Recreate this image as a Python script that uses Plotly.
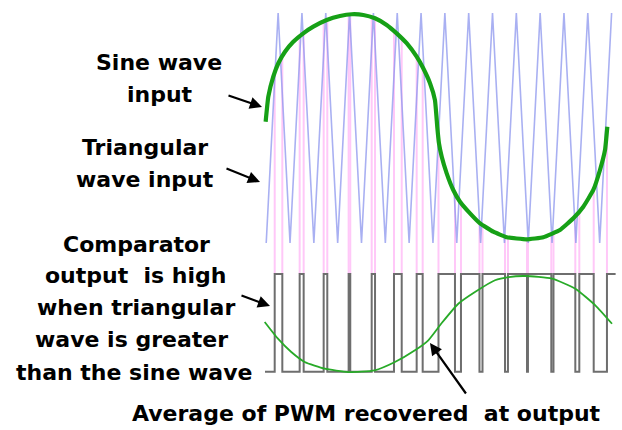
import numpy as np
import plotly.graph_objects as go

# ---- data (x in degrees of the sine period, y in volts; triangle peaks = ±1) ----
tri_t = [1.3, 13.8, 26.3, 38.8, 51.3, 63.8, 76.3, 88.8, 101.3, 113.8, 126.3, 138.8,
         151.3, 163.8, 176.3, 188.8, 201.3, 213.8, 226.3, 238.8, 251.3, 263.8, 276.3,
         288.8, 301.3, 313.8, 326.3, 338.8, 351.3, 363.8]
tri_v = [-1, 1, -1, 1, -1, 1, -1, 1, -1, 1, -1, 1, -1, 1, -1, 1, -1, 1, -1, 1,
         -1, 1, -1, 1, -1, 1, -1, 1, -1, 1]

sine_t = [0.7, 3.5, 8.7, 14.0, 21.0, 29.7, 40.2, 50.7, 64.8, 78.7, 91.0, 103.2, 115.5,
          127.7, 138.2, 148.7, 159.2, 166.1, 173.2, 178.4, 180.8, 182.6, 185.5, 190.7,
          197.6, 204.7, 215.2, 225.7, 239.6, 253.7, 274.7, 292.1, 309.6, 323.6, 334.1,
          344.6, 351.6, 356.9, 359.3]
sine_v = [0.055, 0.272, 0.446, 0.563, 0.663, 0.750, 0.823, 0.881, 0.939, 0.974, 0.989,
          0.983, 0.954, 0.896, 0.823, 0.737, 0.620, 0.519, 0.389, 0.243, 0.011, -0.133,
          -0.250, -0.394, -0.539, -0.641, -0.742, -0.829, -0.902, -0.950, -0.968, -0.950,
          -0.887, -0.785, -0.684, -0.539, -0.365, -0.191, 0.011]

pwm_edges = [0.0, 10.2, 18.2, 36.4, 40.6, 61.6, 65.4, 87.8, 89.5, 112.0, 115.5, 135.4,
             143.5, 159.2, 165.5, 182.1, 199.4, 205.7, 225.1, 228.3, 251.9, 255.0, 275.0,
             276.0, 300.5, 302.8, 325.7, 329.9, 345.0, 358.9, 368.0]
pwm_high = -1.27
pwm_low = -2.12

avg_t = [-0.3, 13.6, 27.6, 41.7, 62.7, 87.1, 115.1, 136.4, 157.4, 171.4, 185.5, 202.9,
         220.4, 241.4, 255.8, 273.2, 301.2, 325.7, 346.7, 364.2]
avg_v = [-1.687, -1.832, -1.948, -2.035, -2.093, -2.122, -2.107, -2.035, -1.933, -1.846,
         -1.696, -1.528, -1.426, -1.324, -1.296, -1.287, -1.310, -1.397, -1.542, -1.702]

# ---- derived traces ----
pwm_levels = [pwm_low if i % 2 == 0 else pwm_high for i in range(len(pwm_edges))]
pwm_levels[-1] = pwm_levels[-2]

pink_x, pink_y = [], []
for e in pwm_edges[1:-1]:
    top = float(np.interp(e, sine_t, sine_v))
    pink_x += [e, e, None]
    pink_y += [top, pwm_high, None]

fig = go.Figure()
fig.add_trace(go.Scatter(x=pink_x, y=pink_y, mode="lines",
                         line=dict(color="rgb(255,200,248)", width=2), hoverinfo="skip"))
fig.add_trace(go.Scatter(x=tri_t, y=tri_v, mode="lines",
                         line=dict(color="rgba(140,150,238,0.75)", width=1.6), hoverinfo="skip"))
fig.add_trace(go.Scatter(x=sine_t, y=sine_v, mode="lines",
                         line=dict(color="rgb(22,160,22)", width=4.2, shape="spline", smoothing=0.35),
                         hoverinfo="skip"))
fig.add_trace(go.Scatter(x=pwm_edges, y=pwm_levels, mode="lines",
                         line=dict(color="rgb(110,110,110)", width=2, shape="hv"), hoverinfo="skip"))
fig.add_trace(go.Scatter(x=avg_t, y=avg_v, mode="lines",
                         line=dict(color="rgb(40,170,40)", width=1.8, shape="spline", smoothing=0.5),
                         hoverinfo="skip"))

W, H = 622, 430
FONT = dict(family="DejaVu Sans", size=22, color="black")

def px(x):
    return x / W

def py(y):
    return 1 - y / H

labels = [
    ("<b>Sine wave</b>", 159, 63),
    ("<b>input</b>", 160, 94),
    ("<b>Triangular</b>", 145, 147.5),
    ("<b>wave input</b>", 145, 179.5),
    ("<b>Comparator</b>", 136, 244.5),
    ("<b>output  is high</b>", 135, 275.5),
    ("<b>when triangular</b>", 136, 307.5),
    ("<b>wave is greater</b>", 131.5, 339.5),
    ("<b>than the sine wave</b>", 134, 372.5),
    ("<b>Average of PWM recovered  at output</b>", 366, 413.5),
]
annotations = []
for txt, x, y in labels:
    annotations.append(dict(text=txt, x=px(x), y=py(y), xref="paper", yref="paper",
                            xanchor="center", yanchor="middle", showarrow=False, font=FONT))

arrows = [((227, 95), (262, 107)), ((225, 168), (260, 182)),
          ((240, 295), (270, 306)), ((467, 395), (430, 343))]
for (tx, ty), (hx, hy) in arrows:
    annotations.append(dict(text="", x=px(hx), y=py(hy), xref="paper", yref="paper",
                            ax=tx - hx, ay=ty - hy, showarrow=True, arrowhead=2,
                            arrowsize=1.1, arrowwidth=2.2, arrowcolor="black", standoff=0))

fig.update_layout(
    width=W, height=H, margin=dict(l=0, r=0, t=0, b=0),
    paper_bgcolor="white", plot_bgcolor="white", showlegend=False,
    xaxis=dict(range=[-278.1, 374.7], visible=False, fixedrange=True),
    yaxis=dict(range=[-2.626, 1.113], visible=False, fixedrange=True),
    annotations=annotations,
)
fig.write_html("out.html", config={"displayModeBar": False},
               post_script="document.body.style.margin='0';document.body.style.overflow='hidden';")
